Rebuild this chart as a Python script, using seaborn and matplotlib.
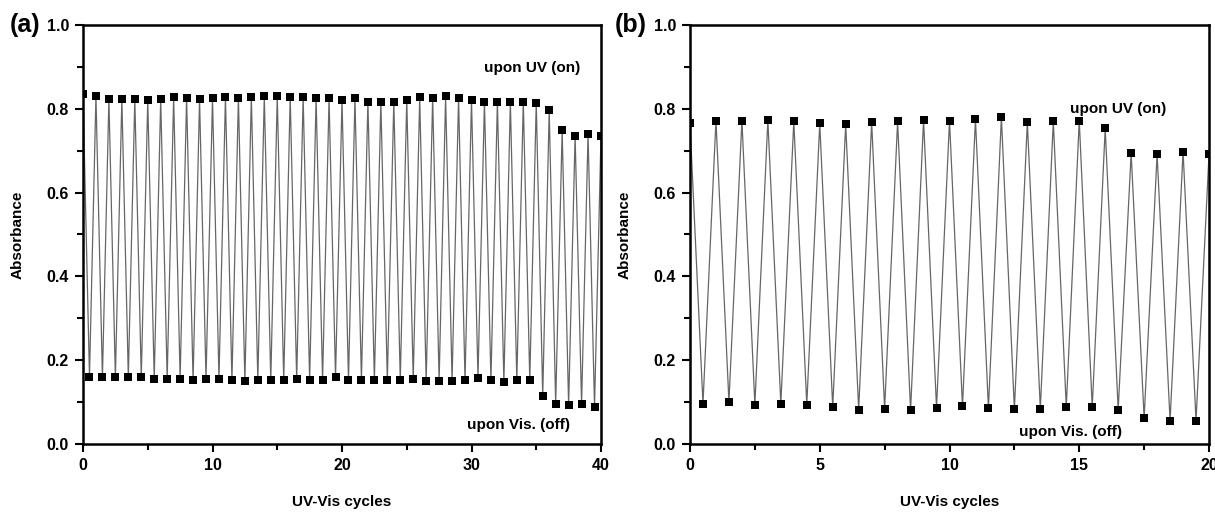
import numpy as np
import pandas as pd
import matplotlib
matplotlib.use("Agg")
import matplotlib.pyplot as plt
import seaborn as sns
from matplotlib.ticker import MultipleLocator

# ---- data ----
a_on = [0.836, 0.831, 0.823, 0.823, 0.823, 0.821, 0.823, 0.827, 0.825, 0.823,
        0.825, 0.829, 0.825, 0.829, 0.830, 0.830, 0.829, 0.828, 0.825, 0.825,
        0.821, 0.825, 0.817, 0.817, 0.817, 0.821, 0.827, 0.825, 0.830, 0.825,
        0.821, 0.817, 0.817, 0.817, 0.817, 0.815, 0.797, 0.749, 0.736, 0.740,
        0.736]
a_off = [0.160, 0.159, 0.159, 0.160, 0.159, 0.156, 0.156, 0.156, 0.152, 0.155,
         0.155, 0.152, 0.150, 0.152, 0.152, 0.152, 0.155, 0.152, 0.152, 0.159,
         0.152, 0.152, 0.152, 0.152, 0.152, 0.156, 0.151, 0.151, 0.151, 0.152,
         0.158, 0.152, 0.148, 0.152, 0.152, 0.115, 0.095, 0.092, 0.095, 0.089,
         0.090]
b_on = [0.765, 0.772, 0.772, 0.773, 0.770, 0.765, 0.763, 0.768, 0.770, 0.773,
        0.772, 0.775, 0.780, 0.768, 0.770, 0.772, 0.753, 0.694, 0.691, 0.698,
        0.691]
b_off = [0.096, 0.101, 0.094, 0.096, 0.094, 0.088, 0.082, 0.084, 0.080, 0.086,
         0.090, 0.085, 0.083, 0.084, 0.088, 0.088, 0.082, 0.062, 0.055, 0.056,
         0.060]
panel_labels = ["(a)", "(b)"]
x_limits = [40, 20]
x_major = [10, 5]
on_text = "upon UV (on)"
off_text = "upon Vis. (off)"
xlabel = "UV-Vis cycles"
ylabel = "Absorbance"


def build(on, off):
    xs, ys = [], []
    for i in range(max(len(on), len(off))):
        if i < len(on):
            xs.append(float(i)); ys.append(on[i])
        if i < len(off):
            xs.append(i + 0.5); ys.append(off[i])
    return pd.DataFrame({"cycle": xs, "abs": ys})


sns.set_style("ticks")
plt.rcParams["font.family"] = ["Liberation Sans", "DejaVu Sans"]
plt.rcParams["font.weight"] = "bold"
for key in ["text.color", "axes.labelcolor", "xtick.color", "ytick.color",
            "xtick.labelcolor", "ytick.labelcolor", "axes.edgecolor"]:
    plt.rcParams[key] = "black"

fig = plt.figure(figsize=(12.15, 5.22), dpi=100)
axA = fig.add_axes([83 / 1215, 78 / 522, 518 / 1215, 419 / 522])
axB = fig.add_axes([690 / 1215, 78 / 522, 519 / 1215, 419 / 522])

cfg = [
    (axA, build(a_on, a_off), 6.0, (34.7, 0.898), (33.6, 0.045)),
    (axB, build(b_on, b_off), 5.4, (16.5, 0.80), (14.65, 0.028)),
]

for k, (ax, df, ms, on_pos, off_pos) in enumerate(cfg):
    sns.lineplot(data=df, x="cycle", y="abs", sort=False, ax=ax,
                 color="#666666", linewidth=0.9, estimator=None)
    sns.scatterplot(data=df.iloc[:-1], x="cycle", y="abs", ax=ax, marker="s",
                    s=ms ** 2, color="black", edgecolor="black", linewidth=0,
                    zorder=3, clip_on=True)
    ax.set_xlim(0, x_limits[k])
    ax.set_ylim(0, 1.0)
    ax.xaxis.set_major_locator(MultipleLocator(x_major[k]))
    ax.xaxis.set_minor_locator(MultipleLocator(x_major[k] / 2))
    ax.yaxis.set_major_locator(MultipleLocator(0.2))
    ax.yaxis.set_minor_locator(MultipleLocator(0.1))
    ax.yaxis.set_major_formatter(matplotlib.ticker.FormatStrFormatter("%.1f"))
    ax.tick_params(which="major", direction="out", length=6, width=1.5,
                   labelsize=11.5, pad=4, top=False, right=False,
                   colors="black")
    ax.tick_params(which="minor", direction="out", length=4, width=1.5,
                   top=False, right=False, colors="black")
    for lab in ax.get_xticklabels() + ax.get_yticklabels():
        lab.set_fontweight("bold")
    for sp in ax.spines.values():
        sp.set_linewidth(1.8)
        sp.set_visible(True)
        sp.set_color("black")
    ax.set_xlabel(xlabel, fontsize=11, fontweight="bold", labelpad=16,
                  color="black")
    ax.set_ylabel(ylabel, fontsize=11, fontweight="bold", color="black")
    ax.yaxis.set_label_coords(-0.112, 0.5)
    ax.text(on_pos[0], on_pos[1], on_text, ha="center", va="center",
            fontsize=11, fontweight="bold", color="black")
    ax.text(off_pos[0], off_pos[1], off_text, ha="center", va="center",
            fontsize=11, fontweight="bold", color="black")
    ax.text(-0.083, 1.0, panel_labels[k], transform=ax.transAxes,
            ha="right", va="center", fontsize=18, fontweight="bold",
            color="black")

fig.savefig("out.png", dpi=100)
